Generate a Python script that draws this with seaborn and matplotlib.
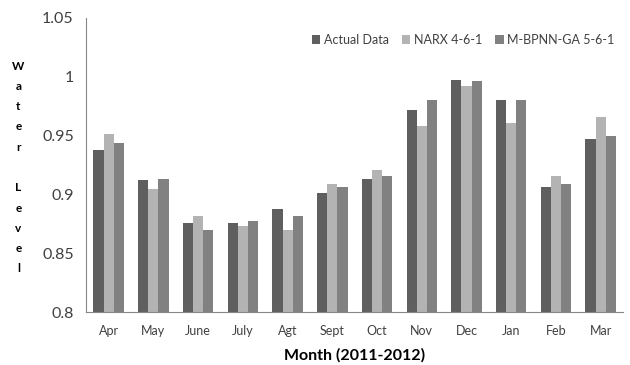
import numpy as np
import pandas as pd
import matplotlib
matplotlib.use("Agg")
import matplotlib.pyplot as plt
import seaborn as sns

months = ["Apr", "May", "June", "July", "Agt", "Sept", "Oct", "Nov", "Dec", "Jan", "Feb", "Mar"]
actual = [0.938, 0.9125, 0.8755, 0.8755, 0.888, 0.901, 0.913, 0.972, 0.997, 0.9805, 0.906, 0.947]
narx = [0.951, 0.905, 0.882, 0.873, 0.870, 0.9085, 0.921, 0.958, 0.9925, 0.961, 0.916, 0.9655]
mbpnn = [0.9435, 0.9135, 0.870, 0.877, 0.882, 0.9065, 0.9155, 0.980, 0.996, 0.9805, 0.909, 0.9495]
series_names = ["Actual Data", "NARX 4-6-1", "M-BPNN-GA 5-6-1"]
palette = ["#5f5f5f", "#b3b3b3", "#818181"]

df = pd.DataFrame({
    "Month": months * 3,
    "Level": actual + narx + mbpnn,
    "Series": [s for s in series_names for _ in months],
})

sns.set_theme(style="white")
plt.rcParams["font.family"] = ["Lato", "DejaVu Sans"]

fig = plt.figure(figsize=(6.3, 3.65), dpi=100)
ax = fig.add_axes([0.137, 0.145, 0.852, 0.806])

sns.barplot(data=df, x="Month", y="Level", hue="Series", order=months,
            hue_order=series_names, palette=palette, width=0.68,
            linewidth=0, saturation=1, ax=ax)

ax.set_ylim(0.8, 1.05)
ax.set_yticks([0.8, 0.85, 0.9, 0.95, 1.0, 1.05])
ax.set_yticklabels(["0.8", "0.85", "0.9", "0.95", "1", "1.05"], fontsize=11.5, color="#404040")
ax.set_xlim(-0.5, len(months) - 0.5)

# Category labels at the centres, tick marks on the boundaries
ax.set_xticks(np.arange(len(months)))
ax.set_xticklabels(months, fontsize=9, color="#404040")
ax.set_xticks(np.arange(len(months) + 1) - 0.5, minor=True)
ax.tick_params(axis="x", which="major", length=0, pad=9)
ax.tick_params(axis="x", which="minor", length=5, color="#888888", width=0.8, direction="out")
ax.tick_params(axis="y", length=5, color="#888888", width=0.8, direction="out", pad=4)

for side in ["top", "right"]:
    ax.spines[side].set_visible(False)
for side in ["left", "bottom"]:
    ax.spines[side].set_color("#888888")
    ax.spines[side].set_linewidth(0.8)

ax.set_xlabel("Month (2011-2012)", fontsize=11.5, fontweight="bold", color="black", labelpad=8)
ax.set_ylabel("")

# Stacked vertical axis title
fig.text(0.029, 0.541, "W\na\nt\ne\nr\n\nL\ne\nv\ne\nl", ha="center", va="center",
         fontsize=8.5, fontweight="bold", linespacing=2.03, color="black")

ax.legend(loc="upper right", bbox_to_anchor=(1.005, 0.985), ncol=3, frameon=False,
          fontsize=9, handlelength=0.7, handleheight=0.7, handletextpad=0.3,
          columnspacing=1.0, labelcolor="#404040")

fig.savefig("out.png", dpi=100)
